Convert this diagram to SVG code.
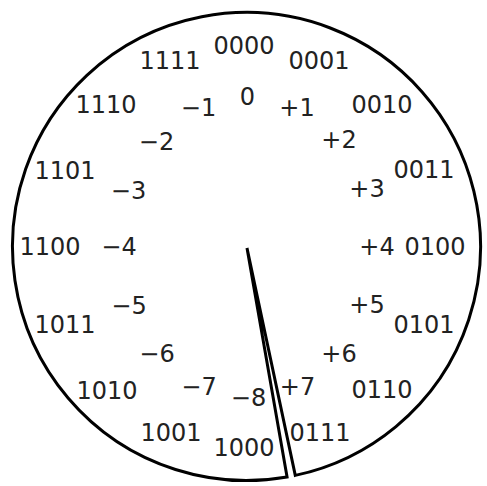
<svg xmlns="http://www.w3.org/2000/svg" width="487" height="486" viewBox="0 0 487 486">
<style>
text{font-family:"DejaVu Sans","Liberation Sans",sans-serif;font-size:24px;fill:#222;text-anchor:middle}
.wheel{fill:#fff;stroke:#000;stroke-width:3;stroke-linejoin:miter;stroke-miterlimit:4}
</style>
<rect width="487" height="486" fill="#fff"/>
<g id="connectors">
<path class="wheel" d="M 287.07 476.96 L 247 248 L 295.29 475.36 A 234 234 0 1 0 287.07 476.96 Z"/>
</g>
<g id="binary">
<g id="b0000"><text x="244" y="54">0000</text></g>
<g id="b0001"><text x="319" y="69">0001</text></g>
<g id="b0010"><text x="382" y="113">0010</text></g>
<g id="b0011"><text x="424" y="178">0011</text></g>
<g id="b0100"><text x="435" y="255">0100</text></g>
<g id="b0101"><text x="424" y="333">0101</text></g>
<g id="b0110"><text x="382" y="398">0110</text></g>
<g id="b0111"><text x="320" y="441">0111</text></g>
<g id="b1000"><text x="244" y="456">1000</text></g>
<g id="b1001"><text x="171" y="441">1001</text></g>
<g id="b1010"><text x="107" y="399">1010</text></g>
<g id="b1011"><text x="65" y="333">1011</text></g>
<g id="b1100"><text x="50" y="255">1100</text></g>
<g id="b1101"><text x="65" y="179">1101</text></g>
<g id="b1110"><text x="106" y="113">1110</text></g>
<g id="b1111"><text x="170" y="69">1111</text></g>
</g>
<g id="decimal">
<g id="d0"><text x="247.5" y="105">0</text></g>
<g id="dp1"><text x="297" y="116">+1</text></g>
<g id="dp2"><text x="339" y="148">+2</text></g>
<g id="dp3"><text x="367" y="197">+3</text></g>
<g id="dp4"><text x="377" y="255">+4</text></g>
<g id="dp5"><text x="367" y="313">+5</text></g>
<g id="dp6"><text x="339" y="362">+6</text></g>
<g id="dp7"><text x="297.5" y="395">+7</text></g>
<g id="dm8"><text x="248.5" y="406">−8</text></g>
<g id="dm7"><text x="199" y="395">−7</text></g>
<g id="dm6"><text x="157" y="362">−6</text></g>
<g id="dm5"><text x="129" y="314">−5</text></g>
<g id="dm4"><text x="119" y="255">−4</text></g>
<g id="dm3"><text x="128.5" y="199">−3</text></g>
<g id="dm2"><text x="156.5" y="150">−2</text></g>
<g id="dm1"><text x="198.5" y="116">−1</text></g>
</g>
</svg>
